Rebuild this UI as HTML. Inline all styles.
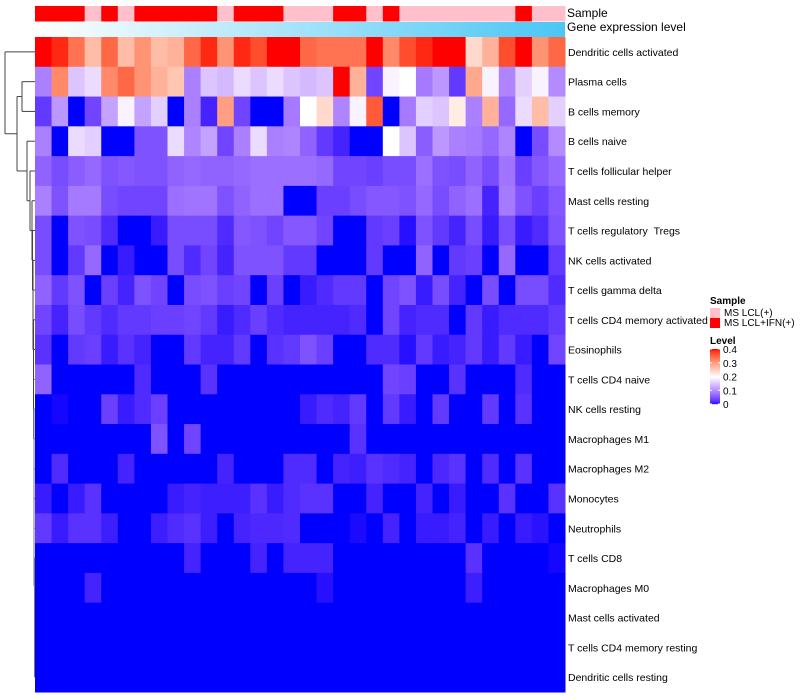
<!DOCTYPE html>
<html><head><meta charset="utf-8"><style>
body{margin:0;background:#fff;width:800px;height:700px;overflow:hidden;font-family:"Liberation Sans",sans-serif}
svg{display:block}
</style></head><body>
<svg id="chart" width="800" height="700" font-family="Liberation Sans, sans-serif"></svg>
<script>
const rowLabels=["Dendritic cells activated","Plasma cells","B cells memory","B cells naive","T cells follicular helper","Mast cells resting","T cells regulatory \u00a0Tregs","NK cells activated","T cells gamma delta","T cells CD4 memory activated","Eosinophils","T cells CD4 naive","NK cells resting","Macrophages M1","Macrophages M2","Monocytes","Neutrophils","T cells CD8","Macrophages M0","Mast cells activated","T cells CD4 memory resting","Dendritic cells resting"];
const sampleGroups=[1,1,1,0,1,0,1,1,1,1,1,0,1,1,1,0,0,0,1,1,0,1,0,0,0,0,0,0,0,1,0,0];
const legendTicks=[0,0.1,0.2,0.3,0.4];
const r0=[40,39,34,27,35,27,31,27,28,35,39,31,39,37,40,40,35,34,34,34,40,32,37,39,40,40,24,28,37,40,31,35];
const r1=[9,32,15,17,32,35,31,28,26,9,15,14,17,15,17,15,14,15,40,28,4,19,20,8.5,11,3,29,19,9.5,16,19,10];
const r2=[3,11,0,4,12,19,12,16,0,9,1.5,30,4,0,0,8.5,20,24,9.5,19,36,0,8.5,16,15,22,9,28,7,17,27,16];
const r3=[9,0,17,16,0,0,5,5,17,9.5,12,4,9,17,9,9.5,6.5,3,1.5,0,0,20,15,6,11,9,8.5,7,9.5,0,4.5,10];
const r4=[6.5,4.5,6,7,5,5.5,5,5,6.5,7,6.5,6.5,7,7.5,7.5,7.5,7.5,7,4,4,3.5,4.5,4.5,7.5,5,4.5,6.5,4.5,8,3.5,5.5,7];
const r5=[9,5,8.5,8.5,4.5,4,4,4,7.5,8,8,5,6.5,7.5,7.5,0,0,3.5,3.5,4.5,5.5,5.5,5,7,4.5,6.5,7.5,1.5,8.5,5,3.5,5.5];
const r6=[4.5,0,5,4.5,2,0,0,1,4.5,4.5,4.5,2,5.5,5,4,5.5,5.5,4,0,0,3,3.5,0.5,5,3,1.5,4.5,1,4.5,1,2,5];
const r7=[4.5,0,3,7,0,1,0,0,4.5,2,4,1.5,5,5,5,3,3,0,0,0,3,0,0,6.5,0,3,3.5,0,7,0,0,3];
const r8=[6.5,3,5,0,3.5,1.5,5,4,0,4.5,5,3.5,4,0,3.5,0,1,2,3,3,0,4,5,1,4.5,1.5,0,4.5,0,4.5,4.5,2];
const r9=[4,1.5,4.5,3,2,3,3,3.5,3.5,4,3,1,2,3.5,2,1.5,1.5,1.5,1.5,2,0,4,1.5,2,2,0,3,1,2,2,2,3];
const r10=[2.5,0,3,3.5,1,2.5,1.5,0,0,3,1.5,1.5,3,0,2.5,3,5,3.5,0,0,2,2,0.5,3,1,1.5,3,1,3,1,0,4];
const r11=[6.5,0,0,0,0,0,2,0,0,0,2.5,0,0,0,0,0,0,0,0,0,0,4,3.5,0,0,2.5,0,0,0,2,0,0];
const r12=[0,0.2,0,0,3.5,1,2,3.5,0,0,0,0,0,0,0,0,1,2,1.5,3,0,3,1,0,3,0,0,3,0,2.5,0,0];
const r13=[0,0,0,0,0,0,0,5,0,4,0,0,0,0,0,0,0,0,0,2.5,0,0,0,0,0,0,0,0,0,0,0,0];
const r14=[0,2,0,0,0,1.5,0,0,0,0,0,1.5,0,0,0,2,2,0,1.5,1.2,2.5,2,1.5,0,1.8,2.5,0,2,0,2.5,0,0];
const r15=[1,0,1,2.5,0,0,0,0,1,1.5,1.2,1.2,1.2,2.5,1,2,2.5,2.5,0,0,1.5,0,0,1.5,0,1,0,0,2.5,0,0,2.5];
const r16=[3,1,2.5,2.5,1.2,0,0,1.2,2,2.5,1.2,0,1.5,1.8,1.8,2,0,0,0,0.3,0,1.5,0,1,1,1.5,0,1,0,1,0.6,0];
const r17=[0,0,0,0,0,0,0,0,0,1.5,0,0,0,1.5,0,1.5,1.5,1.5,0,0,0,0,0,0,0,0,2.5,0,0,0,0,0.2];
const r18=[0,0,0,1.5,0,0,0,0,0,0,0,0,0,0,0,0,0,0.5,0,0,0,0,0,0,0,0,1.2,0,0,0,0,0];
const r19=[0,0,0,0,0,0,0,0,0,0,0,0,0,0,0,0,0,0,0,0,0,0,0,0,0,0,0,0,0,0,0,0];
const r20=[0,0,0,0,0,0,0,0,0,0,0,0,0,0,0,0,0,0,0,0,0,0,0,0,0,0,0,0,0,0,0,0];
const r21=[0,0,0,0,0,0,0,0,0,0,0,0,0,0,0,0,0,0,0,0,0,0,0,0,0,0,0,0,0,0,0,0];
const rowValues=[r0,r1,r2,r3,r4,r5,r6,r7,r8,r9,r10,r11,r12,r13,r14,r15,r16,r17,r18,r19,r20,r21];

const NS="http://www.w3.org/2000/svg";
const svg=document.getElementById('chart');
function mk(tag,attrs,parent){const e=document.createElementNS(NS,tag);for(const k in attrs)e.setAttribute(k,attrs[k]);(parent||svg).appendChild(e);return e;}
function toLin(c){c/=255;return c<=0.04045?c/12.92:Math.pow((c+0.055)/1.055,2.4);}
function fromLin(c){c=c<=0.0031308?12.92*c:1.055*Math.pow(c,1/2.4)-0.055;return Math.max(0,Math.min(255,Math.round(c*255)));}
function rgb2lab(r,g,b){r=toLin(r);g=toLin(g);b=toLin(b);
 let x=(r*0.4124+g*0.3576+b*0.1805)/0.95047,y=r*0.2126+g*0.7152+b*0.0722,z=(r*0.0193+g*0.1192+b*0.9505)/1.08883;
 const f=t=>t>0.008856?Math.cbrt(t):7.787*t+16/116;x=f(x);y=f(y);z=f(z);
 return [116*y-16,500*(x-y),200*(y-z)];}
function lab2rgb(L,a,bb){let y=(L+16)/116,x=a/500+y,z=y-bb/200;
 const fi=t=>t*t*t>0.008856?t*t*t:(t-16/116)/7.787;x=fi(x)*0.95047;y=fi(y);z=fi(z)*1.08883;
 const r=x*3.2406+y*-1.5372+z*-0.4986,g=x*-0.9689+y*1.8758+z*0.0415,b=x*0.0557+y*-0.2040+z*1.0570;
 return `rgb(${fromLin(r)},${fromLin(g)},${fromLin(b)})`;}
const LB=rgb2lab(0,0,255),LW=rgb2lab(255,255,255),LR=rgb2lab(255,0,0);
function color(v){v=Math.max(0,Math.min(0.4,v));let A,B,t;
 if(v<=0.2){A=LB;B=LW;t=v/0.2;}else{A=LW;B=LR;t=(v-0.2)/0.2;}
 return lab2rgb(A[0]+(B[0]-A[0])*t,A[1]+(B[1]-A[1])*t,A[2]+(B[2]-A[2])*t);}

const X0=35,X1=565,Y0=37,Y1=692;
const nC=sampleGroups.length,nR=rowLabels.length;
const cw=(X1-X0)/nC,rh=(Y1-Y0)/nR;
const xPos=i=>X0+i*cw, yPos=j=>Y0+j*rh;

const sg=mk('g',{});


sampleGroups.forEach((g,i)=>{const r=mk('rect',{x:xPos(i),y:6,width:cw+0.5,height:15.5,fill:g?'#ff0000':'#ffc0cb'},sg);
 
 });
const defs=mk('defs',{});
const lg=mk('linearGradient',{id:'gexp',x1:0,x2:1,y1:0,y2:0},defs);
mk('stop',{offset:0,'stop-color':'#ffffff'},lg);mk('stop',{offset:1,'stop-color':'#4ac6f5'},lg);
const gb=mk('rect',{x:X0,y:22,width:X1-X0,height:15,fill:'url(#gexp)'});


const t1=mk('text',{x:567,y:17,'font-size':12,fill:'#000'});t1.textContent='Sample';


const t2=mk('text',{x:567,y:31,'font-size':12,fill:'#000'});t2.textContent='Gene expression level';



const hg=mk('g',{});


rowValues.forEach((row,j)=>{row.forEach((v,i)=>{
 const c=mk('rect',{x:xPos(i),y:yPos(j),width:cw+0.5,height:rh+0.5,fill:color(v/100)},hg);
 
 });
 const t=mk('text',{x:568,y:yPos(j)+rh/2+4,'font-size':10.5,fill:'#000'});
 t.textContent=rowLabels[j];
 
 
});

const dg=mk('g',{stroke:'#444','stroke-width':1,fill:'none'});


const cy=j=>yPos(j)+rh/2;
function ln(x1,y1,x2,y2,c){mk('line',{x1,y1,x2,y2,stroke:c||'#444'},dg);}
const bY=(cy(1)+cy(2))/2;
ln(22,cy(1),35,cy(1));ln(22,cy(2),35,cy(2));ln(22,cy(1),22,cy(2));
const ladX=[27,30,32,32.5,33,33,33.5,33.5,33.5,34,34,34,34,34,34.5,34.5,34.5,34.5];
let curY=cy(21),curX=34.8;
for(let j=20;j>=3;j--){const nx=ladX[j-3];const col=j>10?'#777':'#444';ln(nx,cy(j),35,cy(j),col);ln(nx,curY,curX,curY,col);ln(nx,cy(j),nx,curY,col);curY=(cy(j)+curY)/2;curX=nx;}
ln(34.8,cy(21),35,cy(21));
const cY=curY;
ln(17,bY,22,bY);ln(17,cY,curX,cY);ln(17,bY,17,cY);
const aY=(bY+cY)/2;
ln(5,cy(0),35,cy(0));ln(5,aY,17,aY);ln(5,cy(0),5,aY);

const L=mk('g',{});


const lt=mk('text',{x:710,y:304,'font-size':10,'font-weight':'bold'},L);lt.textContent='Sample';
[['#ffc0cb','MS LCL(+)'],['#ff0000','MS LCL+IFN(+)']].forEach((d,k)=>{
 const r=mk('rect',{x:710,y:308+k*10,width:10,height:10,fill:d[0]},L);
 
 
 const t=mk('text',{x:724,y:316+k*10,'font-size':10},L);t.textContent=d[1];
 
 });
const lv=mk('text',{x:710,y:344,'font-size':10,'font-weight':'bold'},L);lv.textContent='Level';
const cbTop=349,cbBot=404;
for(let k=0;k<55;k++){const v=0.4-0.4*k/55;mk('rect',{x:710,y:cbTop+k,width:10,height:1.2,fill:color(v)},L);}
legendTicks.forEach(v=>{const y=cbBot-(v/0.4)*(cbBot-cbTop);
 mk('line',{x1:710,y1:y,x2:712,y2:y,stroke:'#fff'},L);mk('line',{x1:718,y1:y,x2:720,y2:y,stroke:'#fff'},L);
 const t=mk('text',{x:723,y:y+4,'font-size':10},L);t.textContent=v===0?'0':String(v);
 
 });
</script>
</body></html>
